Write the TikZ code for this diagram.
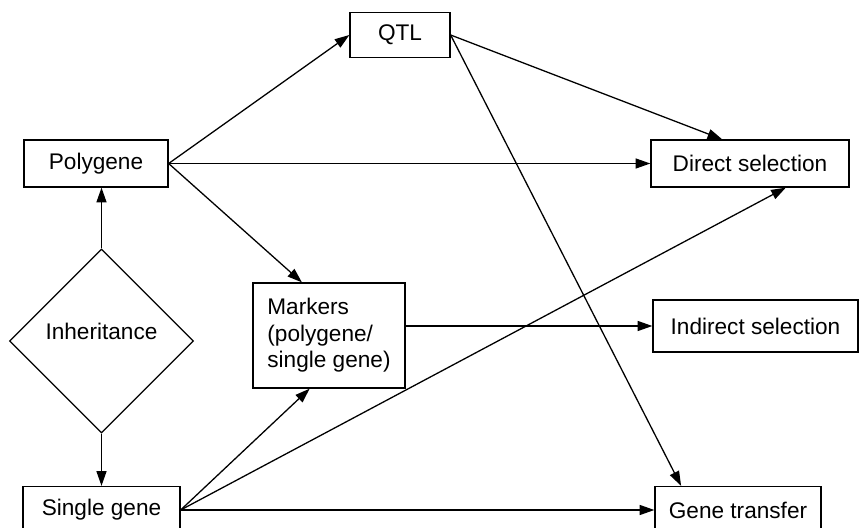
\documentclass[tikz,border=0pt]{standalone}
\usepackage{fontspec}
\setmainfont{Liberation Sans}
\usetikzlibrary{arrows.meta,shapes.geometric}
\begin{document}
\begin{tikzpicture}[x=0.03cm,y=-0.03cm,
    box/.style={draw,line width=1.1pt,minimum height=1.41cm,inner sep=0pt,font=\fontsize{19.3}{22.5}\selectfont},
    arr/.style={-{Triangle[length=12.5pt,width=8.5pt]},line width=1.1pt}]
  \useasboundingbox (0,0) rectangle (859,528);
  \clip (0,0) rectangle (859,528);

  \node[box,minimum width=3cm,minimum height=1.35cm] (qtl) at (400,35) {QTL};
  \node[box,minimum width=4.32cm] (poly) at (96,163.5) {Polygene};
  \node[box,minimum width=5.94cm] (direct) at (750,163.5) {Direct selection};
  \node[box,minimum width=4.56cm,minimum height=3.15cm,align=left] (markers) at (329,335.5)
    {Markers\\(polygene/\\single gene)};
  \node[box,minimum width=6.15cm,minimum height=1.56cm] (indirect) at (755.5,326) {Indirect selection};
  \node[box,diamond,aspect=1,minimum width=5.52cm,minimum height=5.52cm] (inh) at (101.5,341)
    {\raisebox{0.6cm}{Inheritance}};
  \node[box,minimum width=4.71cm] (single) at (101.5,510) {Single gene};
  \node[box,minimum width=4.98cm] (transfer) at (738,510) {Gene transfer};

  \draw[arr] (inh.north) -- (inh.north |- poly.south);
  \draw[arr] (inh.south) -- (inh.south |- single.north);
  \draw[arr] (poly.east) -- (qtl.west);
  \draw[arr] (poly.east) -- (direct.west);
  \draw[arr] (poly.east) -- (markers.117);
  \draw[arr] (qtl.east) -- (direct.139);
  \draw[arr] (qtl.east) -- (transfer.157);
  \draw[arr] (markers.east |- indirect.west) -- (indirect.west);
  \draw[arr] (single.east) -- (markers.250);
  \draw[arr] (single.east) -- (direct.-34);
  \draw[arr] (single.east) -- (transfer.west);
\end{tikzpicture}
\end{document}
